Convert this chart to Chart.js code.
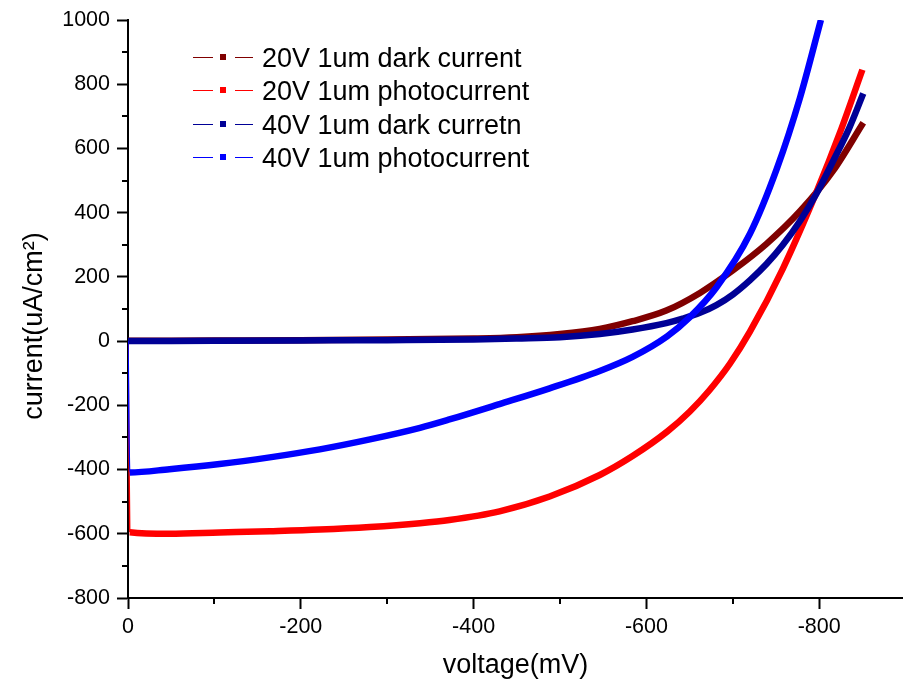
<!DOCTYPE html>
<html>
<head>
<meta charset="utf-8">
<script src="https://cdn.jsdelivr.net/npm/chart.js@4.4.0/dist/chart.umd.min.js"></script>
<style>
  html, body { margin: 0; padding: 0; background: #fff; }
  #wrap { width: 903px; height: 688px; }
</style>
</head>
<body>
<div id="wrap"><canvas id="ivChart" width="903" height="688"></canvas></div>
<script>
// series names and colours (legend order)
var seriesLabels = ['20V 1um dark current', '20V 1um photocurrent', '40V 1um dark curretn', '40V 1um photocurrent'];
var seriesColors = ['#800000', '#ff0000', '#000096', '#0000ff'];

// voltage (mV) / current (uA/cm2)
var dark20V = [0, -100, -200, -300, -400, -450, -500, -546, -584, -623, -662, -700, -739, -778, -816, -851];
var dark20I = [1, 2, 3, 5, 8, 12, 22, 38, 62, 95, 150, 220, 303, 405, 530, 680];

var photo20V = [0, -2, -48, -106, -164, -222, -280, -338, -372, -430, -488, -546, -584, -624, -650, -673, -697, -720, -758, -797, -824, -850];
var photo20I = [0, -595, -600, -596, -592, -587, -579, -567, -557, -530, -484, -417, -358, -282, -220, -153, -69, 30, 226, 465, 649, 845];

var dark40V = [0, -100, -200, -300, -400, -450, -500, -546, -584, -623, -642, -662, -681, -700, -720, -739, -758, -778, -797, -816, -835, -851];
var dark40I = [0, 1, 2, 3, 5, 8, 12, 22, 36, 56, 70, 88, 112, 145, 190, 240, 300, 375, 460, 560, 665, 771];

var photo40V = [0, -2, -48, -106, -164, -222, -280, -338, -372, -430, -488, -546, -584, -624, -650, -681, -720, -751, -778, -802];
var photo40I = [0, -409, -399, -383, -362, -337, -306, -270, -244, -196, -147, -93, -49, 15, 74, 167, 335, 537, 760, 1000];

var xMinorTicks = [-100, -300, -500, -700];
var yMinorTicks = [-700, -500, -300, -100, 100, 300, 500, 700, 900];

function toPoints(xs, ys) {
    return xs.map(function (x, i) { return { x: x, y: ys[i] }; });
}

var fontFamily = '"Liberation Sans", Arial, sans-serif';

var extras = {
    id: 'extras',
    afterDraw: function (chart) {
        var ctx = chart.ctx;
        var xs = chart.scales.x, ys = chart.scales.y;
        var area = chart.chartArea;
        ctx.save();
        // minor ticks
        ctx.strokeStyle = '#000';
        ctx.lineWidth = 2;
        ctx.beginPath();
        xMinorTicks.forEach(function (v) {
            var px = Math.round(xs.getPixelForValue(v));
            ctx.moveTo(px, area.bottom);
            ctx.lineTo(px, area.bottom + 6);
        });
        yMinorTicks.forEach(function (v) {
            var py = Math.round(ys.getPixelForValue(v));
            ctx.moveTo(area.left, py);
            ctx.lineTo(area.left - 6, py);
        });
        ctx.stroke();

        // y axis title
        ctx.fillStyle = '#000';
        ctx.font = '27px ' + fontFamily;
        ctx.textAlign = 'center';
        ctx.textBaseline = 'alphabetic';
        ctx.save();
        ctx.translate(42, 326);
        ctx.rotate(-Math.PI / 2);
        ctx.fillText('current(uA/cm\u00b2)', 0, 0);
        ctx.restore();

        // legend: line - square - line
        ctx.textAlign = 'left';
        seriesLabels.forEach(function (label, i) {
            var y = 57 + i * 33.4;
            ctx.strokeStyle = seriesColors[i];
            ctx.lineWidth = 1;
            ctx.beginPath();
            ctx.moveTo(193, Math.round(y) + 0.5);
            ctx.lineTo(213, Math.round(y) + 0.5);
            ctx.moveTo(235, Math.round(y) + 0.5);
            ctx.lineTo(253, Math.round(y) + 0.5);
            ctx.stroke();
            ctx.fillStyle = seriesColors[i];
            ctx.fillRect(220, Math.round(y) - 3, 6, 6);
            ctx.fillStyle = '#000';
            ctx.fillText(label, 262, y + 10);
        });
        ctx.restore();
    }
};

var series = [
    [dark20V, dark20I],
    [photo20V, photo20I],
    [dark40V, dark40I],
    [photo40V, photo40I]
];

var datasets = series.map(function (s, i) {
    return {
        label: seriesLabels[i],
        data: toPoints(s[0], s[1]),
        borderColor: seriesColors[i],
        backgroundColor: seriesColors[i],
        borderWidth: 6.5,
        pointRadius: 0,
        fill: false,
        cubicInterpolationMode: 'monotone',
        borderJoinStyle: 'round',
        order: 4 - i,
        segment: {
            borderWidth: function (c) { return c.p0DataIndex === 0 && c.p1.y - c.p0.y > 50 ? 1.5 : 6.5; }
        }
    };
});

var ctx = document.getElementById('ivChart').getContext('2d');
var ivChart = new Chart(ctx, {
    type: 'line',
    data: { datasets: datasets },
    options: {
        responsive: false,
        animation: false,
        layout: { padding: { top: 20, right: 0, left: 0, bottom: 0 } },
        plugins: { legend: { display: false }, tooltip: { enabled: false } },
        scales: {
            x: {
                type: 'linear',
                min: -897,
                max: 0,
                reverse: true,
                afterFit: function (s) { s.height = 90; },
                border: { color: '#000', width: 2 },
                grid: { drawOnChartArea: false, tickLength: 11, tickWidth: 2, tickColor: '#000' },
                ticks: {
                    stepSize: 200, includeBounds: false, maxRotation: 0, padding: 5, color: '#000',
                    font: { size: 21.5, family: fontFamily },
                    callback: function (v) { return String(v); }
                },
                title: { display: true, text: 'voltage(mV)', color: '#000', padding: { top: 0, bottom: 6 }, font: { size: 27, family: fontFamily } }
            },
            y: {
                min: -800,
                max: 1000,
                afterFit: function (s) { s.width = 128; },
                border: { color: '#000', width: 2 },
                grid: { drawOnChartArea: false, tickLength: 11, tickWidth: 2, tickColor: '#000' },
                ticks: {
                    stepSize: 200, padding: 7, color: '#000',
                    font: { size: 21.5, family: fontFamily },
                    callback: function (v) { return String(v); }
                }
            }
        }
    },
    plugins: [extras]
});
</script>
</body>
</html>
